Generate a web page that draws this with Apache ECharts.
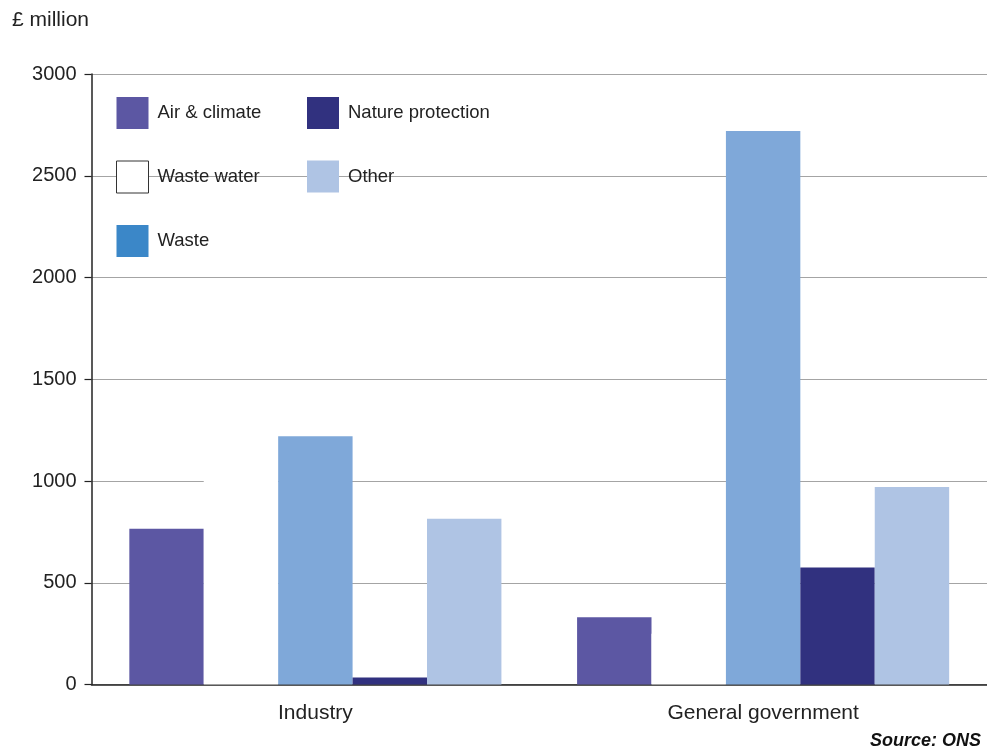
<!DOCTYPE html>
<html>
<head>
<meta charset="utf-8">
<title>Environmental protection expenditure</title>
<script src="https://cdn.jsdelivr.net/npm/echarts@6/dist/echarts.min.js"></script>
<style>
  html, body { margin: 0; padding: 0; background: #fff; }
  #chart { width: 987px; height: 749px; }
</style>
</head>
<body>
<div id="chart"></div>
<script>
// Spending by sector, £ million
const categories = ['Industry', 'General government'];
const seriesNames = ['Air & climate', 'Waste water', 'Waste', 'Nature protection', 'Other'];
const airClimate = [765, 330];
const wasteWater = [1200, 250];
const waste = [1220, 2720];
const natureProtection = [35, 575];
const other = [815, 970];
const yTicks = [0, 500, 1000, 1500, 2000, 2500, 3000];

const FONT = '"Liberation Sans", Arial, Helvetica, sans-serif';
const barColors = ['#5C57A3', '#FFFFFF', '#7FA8D9', '#31317F', '#AFC4E4'];
const values = [airClimate, wasteWater, waste, natureProtection, other];

const chart = echarts.init(document.getElementById('chart'), null, { renderer: 'canvas' });

const series = seriesNames.map((name, i) => ({
  name: name,
  type: 'bar',
  data: values[i],
  barGap: '0%',
  barCategoryGap: '16.9%',
  itemStyle: { color: barColors[i] },
  emphasis: { disabled: true }
}));

const legendText = { fontFamily: FONT, fontSize: 18.5, color: '#222', padding: [0, 0, 0, 4] };

chart.setOption({
  animation: false,
  grid: { left: 91.5, width: 903, top: 74, bottom: 64.5, containLabel: false },
  legend: [
    {
      orient: 'vertical',
      left: 111, top: 92,
      itemWidth: 32, itemHeight: 32, itemGap: 31.5,
      icon: 'rect',
      textStyle: legendText,
      data: [
        { name: 'Air & climate' },
        { name: 'Waste water', itemStyle: { color: '#FFFFFF', borderColor: '#333', borderWidth: 1 } },
        { name: 'Waste', itemStyle: { color: '#3B87C8' } }
      ]
    },
    {
      orient: 'vertical',
      left: 302, top: 92,
      itemWidth: 32, itemHeight: 32, itemGap: 31.5,
      icon: 'rect',
      textStyle: legendText,
      data: [
        { name: 'Nature protection' },
        { name: 'Other' }
      ]
    }
  ],
  xAxis: {
    type: 'category',
    data: categories,
    axisLine: { show: true, lineStyle: { color: '#222', width: 1.5 } },
    axisTick: { show: false },
    axisLabel: { fontFamily: FONT, fontSize: 21, color: '#222', margin: 18 },
    splitLine: { show: false }
  },
  yAxis: {
    type: 'value',
    min: yTicks[0],
    max: yTicks[yTicks.length - 1],
    interval: yTicks[1] - yTicks[0],
    axisLine: { show: true, lineStyle: { color: '#222', width: 1.5 } },
    axisTick: { show: true, inside: false, length: 7, lineStyle: { color: '#222', width: 1.2 } },
    axisLabel: {
      fontFamily: FONT, fontSize: 20, color: '#222', margin: 15,
      formatter: v => String(v)
    },
    splitLine: { show: true, lineStyle: { color: '#a4a4a4', width: 1.2 } }
  },
  graphic: [
    {
      type: 'text', left: 12, top: 10,
      style: { text: '£ million', fontFamily: FONT, fontSize: 21, fill: '#222' }
    },
    {
      type: 'text', right: 6, top: 732,
      style: { text: 'Source: ONS', fontFamily: FONT, fontSize: 18, fontWeight: 'bold', fontStyle: 'italic', fill: '#111' }
    }
  ],
  series: series
});
</script>
</body>
</html>
